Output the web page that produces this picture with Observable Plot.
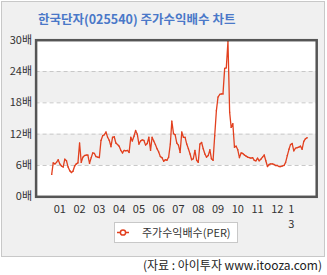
<!DOCTYPE html>
<html>
<head>
<meta charset="utf-8">
<script src="https://cdn.jsdelivr.net/npm/d3@7"></script>
<script src="https://cdn.jsdelivr.net/npm/@observablehq/plot@0.6"></script>
<style>
  html, body { margin: 0; padding: 0; background: #ffffff; }
  body { width: 327px; height: 275px; position: relative; overflow: hidden; font-family: "Noto Sans CJK KR", "Noto Sans", sans-serif; }
  #panel { position: absolute; left: 1px; top: 1px; width: 322px; height: 254px; background: #f0f0f0; border: 1px solid #c8c8c8; }
  #title { position: absolute; left: 38px; top: 9px; font-size: 12.5px; font-weight: bold; color: #4a78c8; white-space: nowrap; line-height: 20px; }
  #chart { position: absolute; left: 0; top: 0; }
  #legend { position: absolute; left: 114px; top: 222px; width: 122px; height: 19px; background: #fff; border: 1px solid #c8c8c8; }
  #legend svg { position: absolute; left: 0; top: 0; }
  #legend span { position: absolute; left: 27px; top: 0; font-size: 11px; line-height: 19px; color: #333; white-space: nowrap; }
  #source { position: absolute; right: 5px; top: 256px; font-size: 12px; line-height: 18px; color: #222; white-space: nowrap; }
</style>
</head>
<body>
<div id="panel"></div>
<div id="title">한국단자(025540) 주가수익배수 차트</div>
<div id="chart"></div>
<div id="legend"><svg width="30" height="19"><line x1="2" y1="9.5" x2="14" y2="9.5" stroke="#e2401f" stroke-width="1.5"/><circle cx="8" cy="9.5" r="2.6" fill="#fff" stroke="#e2401f" stroke-width="1.5"/></svg><span>주가수익배수(PER)</span></div>
<div id="source">(자료 : 아이투자 www.itooza.com)</div>
<script>
// Monthly PER values, starting February 2001
const startMonth = "2001-02";
const perValues = [
  4.3, 6.5, 6.3, 6.6, 7.1, 6.3, 5.9, 5.7, 7.2, 6.9, 5.7, 5.0,
  4.65, 4.9, 5.9, 6.3, 6.5, 10.3, 6.6, 7.6, 7.9, 8.0, 8.0, 6.4,
  7.5, 8.4, 8.3, 7.7, 7.6, 7.5, 10.8, 11.7, 11.9, 12.4, 11.4, 10.8,
  9.6, 11.4, 11.5, 10.3, 10.0, 9.7, 8.9, 8.4, 8.9, 8.8, 8.9, 8.5,
  11.4, 10.7, 11.6, 12.7, 12.0, 10.1, 10.7, 10.9, 10.8, 9.9, 10.2, 11.4,
  8.9, 11.4, 10.7, 10.0, 9.2, 8.6, 7.7, 7.5, 6.8, 7.1, 7.0, 7.6,
  10.1, 14.5, 12.1, 11.9, 10.3, 9.9, 8.5, 12.4, 11.4, 11.4, 10.1, 9.2,
  8.2, 7.1, 7.3, 8.9, 7.0, 6.6, 10.1, 10.4, 9.2, 8.2, 7.6, 7.9,
  9.0, 7.3, 7.0, 11.7, 16.5, 19.1, 19.6, 19.7, 19.7, 24.6, 24.7, 29.8,
  16.2, 13.3, 14.0, 9.5, 9.7, 9.0, 7.5, 8.4, 8.3, 8.0, 7.8, 7.6,
  7.5, 7.4, 7.5, 7.0, 6.9, 7.4, 6.9, 7.2, 7.6, 8.0, 6.9, 5.8,
  6.2, 6.3, 6.3, 6.2, 6.0, 6.0, 5.8, 5.8, 5.9, 6.0, 6.6, 7.9,
  9.1, 10.0, 10.2, 8.8, 9.3, 9.4, 9.5, 9.7, 9.1, 10.6, 11.1, 11.3
];
const yTicks = [0, 6, 12, 18, 24, 30];
const yUnit = "배";
const bandLow = [6, 18];
const bandHigh = [12, 24];
const xTickDates = ["2001-07-01","2002-07-01","2003-07-01","2004-07-01","2005-07-01","2006-07-01","2007-07-01","2008-07-01","2009-07-01","2010-07-01","2011-07-01","2012-07-01","2013-03-15"];
const xTickLabels = ["01","02","03","04","05","06","07","08","09","10","11","12","1\n3"];
const xDomain = ["2000-04-19", "2014-06-28"];

const start = new Date(startMonth + "-01T00:00:00Z");
const data = perValues.map((v, i) => ({date: d3.utcMonth.offset(start, i), per: v}));
const bands = bandLow.map((lo, i) => ({lo, hi: bandHigh[i]}));
const tickDates = xTickDates.map(s => new Date(s + "T00:00:00Z"));
const labelOf = new Map(tickDates.map((d, i) => [+d, xTickLabels[i]]));

const H = 234;
const chart = Plot.plot({
  width: 327,
  height: H,
  marginTop: 39.7,
  marginBottom: H - 196.3,
  marginLeft: 35.6,
  marginRight: 10.8,
  style: {background: "transparent", fontFamily: "'Noto Sans CJK KR', 'Noto Sans', sans-serif", fontSize: "11px", color: "#333"},
  x: {type: "utc", domain: xDomain.map(s => new Date(s + "T00:00:00Z"))},
  y: {domain: [0, 30]},
  marks: [
    Plot.frame({fill: "#ffffff", stroke: "none"}),
    Plot.rect(bands, {y1: "lo", y2: "hi", fill: "#f0f0f0"}),
    Plot.ruleY(yTicks.slice(1, -1), {stroke: "#c8c8c8", strokeDasharray: "4,3", strokeWidth: 1}),
    Plot.axisY({ticks: yTicks, tickSize: 0, tickPadding: 4, tickFormat: d => d + yUnit, fill: "#333", fontSize: 11}),
    Plot.axisX({ticks: tickDates, tickSize: 0, tickPadding: 5, tickFormat: d => labelOf.get(+d), fill: "#333", fontSize: 11, lineHeight: 1.4}),
    Plot.line(data, {x: "date", y: "per", stroke: "#e2401f", strokeWidth: 1.3}),
    Plot.dot(data, {x: "date", y: "per", r: 0.7, fill: "#e2401f", stroke: "none"}),
    Plot.frame({stroke: "#555", strokeWidth: 2.5})
  ]
});
document.getElementById("chart").appendChild(chart);
</script>
</body>
</html>
